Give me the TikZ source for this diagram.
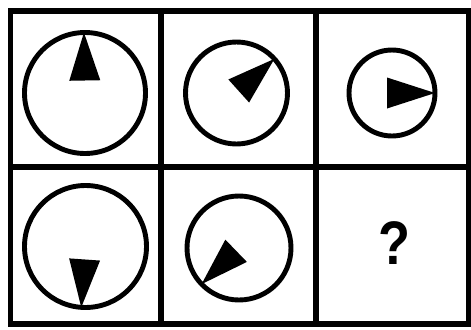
\documentclass[tikz,border=0pt]{standalone}
\usepackage{fontspec}
\setmainfont{Liberation Sans}
\usepackage{tikz}
\usetikzlibrary{calc}
\tikzset{
  gridline/.style={line width=3.3pt, line cap=rect},
  dial/.style={draw=black, line width=2.8pt},
  pointer/.style={fill=black},
  qmark/.style={font=\fontsize{35}{37}\selectfont\bfseries, inner sep=0pt, xscale=0.85}
}
% pointer: dial centre, angle, dial radius
\newcommand{\dialpointer}[3]{%
  \fill[pointer] ($(#1)+(#2:#3)$) -- ($(#1)+(#2:#3-48)+(#2+90:15.5)$) -- ($(#1)+(#2:#3-48)+(#2-90:15.5)$) -- cycle;}

\begin{document}
\begin{tikzpicture}[x=0.02cm, y=0.02cm]
    \useasboundingbox (0,0) rectangle (471,329);

    % Grid 2x3
    \draw[gridline] (10.5,5) rectangle (468.5,318);
    \draw[gridline] (161,5) -- (161,318);
    \draw[gridline] (316,5) -- (316,318);
    \draw[gridline] (10.5,162) -- (468.5,162);

    % Dial centres
    \coordinate (d11) at (85,236);
    \coordinate (d12) at (236.5,236);
    \coordinate (d13) at (392,236);
    \coordinate (d21) at (85.5,82.5);
    \coordinate (d22) at (239,81);

    % Top row
    \draw[dial] (d11) circle[radius=60.5];
    \dialpointer{d11}{91}{60.5}
    \draw[dial] (d12) circle[radius=51];
    \dialpointer{d12}{42}{51}
    \draw[dial] (d13) circle[radius=43];
    \dialpointer{d13}{0}{43}

    % Bottom row
    \draw[dial] (d21) circle[radius=61];
    \dialpointer{d21}{266}{61}
    \draw[dial] (d22) circle[radius=52];
    \dialpointer{d22}{224}{52}

    % Missing cell
    \node[qmark] (ask) at (394,86) {?};
\end{tikzpicture}
\end{document}
